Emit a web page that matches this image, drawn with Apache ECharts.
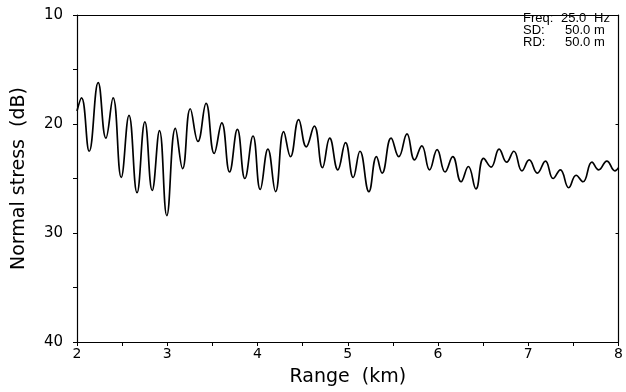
<!DOCTYPE html>
<html>
<head>
<meta charset="utf-8">
<script src="https://cdn.jsdelivr.net/npm/echarts@6/dist/echarts.min.js"></script>
<style>html,body{margin:0;padding:0;background:#fff}#c{width:626px;height:392px}</style>
</head>
<body>
<div id="c"></div>
<script>
// Range (km) of each read point (peaks / troughs of the curve)
var rangeKm = [2.00,2.05,2.135,2.235,2.32,2.40,2.49,2.576,2.665,2.752,2.833,2.914,2.995,3.09,3.17,3.255,3.34,3.43,3.52,3.604,3.69,3.777,3.86,3.95,4.03,4.115,4.20,4.29,4.365,4.456,4.54,4.629,4.72,4.80,4.89,4.975,5.06,5.135,5.234,5.318,5.38,5.48,5.565,5.656,5.74,5.82,5.906,5.99,6.078,6.163,6.255,6.336,6.42,6.505,6.588,6.677,6.76,6.84,6.93,7.01,7.10,7.19,7.275,7.355,7.448,7.53,7.606,7.705,7.78,7.87,7.96,8.00];
// Normal stress (dB)
var stressDb = [18.8,17.6,22.5,16.2,21.3,17.6,24.9,19.2,26.3,19.8,26.1,20.6,28.4,20.4,24.1,18.6,21.6,18.1,22.7,19.9,24.4,20.5,25.0,21.1,26.0,22.3,26.2,20.7,23.0,19.6,22.1,20.2,24.0,21.3,24.2,21.7,24.9,22.5,26.2,23.0,24.5,21.3,23.0,20.9,23.3,22.0,24.2,22.35,24.4,23.0,25.3,23.9,25.95,23.15,23.95,22.3,23.5,22.5,24.3,23.3,24.5,23.4,25.0,24.2,25.85,24.7,25.3,23.5,24.2,23.4,24.3,24.0];
var xTicks = [2,3,4,5,6,7,8];
var yTicks = [10,20,30,40];
var infoLabels = ['Freq:', 'SD:', 'RD:'];
var infoValues = ['25.0', '50.0', '50.0'];
var infoUnits = ['Hz', 'm', 'm'];

var pts = rangeKm.map(function(x, i){ return [x, stressDb[i]]; });
var FONT = 'DejaVu Sans';
var IFONT = 'Liberation Sans';
var chart = echarts.init(document.getElementById('c'), null, {renderer:'canvas'});

var graphics = [];
var valX = [561, 565, 565];
for (var i = 0; i < infoLabels.length; i++) {
  var y = 12 + i * 12;
  graphics.push({type:'text', left:523, top:y, style:{text:infoLabels[i], font:'13px "'+IFONT+'"', fill:'#000'}});
  graphics.push({type:'text', left:valX[i], top:y, style:{text:infoValues[i], font:'13px "'+IFONT+'"', fill:'#000'}});
  graphics.push({type:'text', left:594, top:y, style:{text:infoUnits[i], font:'13px "'+IFONT+'"', fill:'#000'}});
}

var axLine = {show:true, lineStyle:{color:'#000', width:1.2}};
chart.setOption({
  animation:false,
  backgroundColor:'#fff',
  grid:{left:77, right:3, top:15, bottom:49, containLabel:false},
  xAxis:[{
    type:'value', min:2, max:8, interval:1, position:'bottom',
    name:'Range  (km)', nameLocation:'middle', nameGap:26,
    nameTextStyle:{fontFamily:FONT, fontSize:19, color:'#000'},
    axisLine:axLine,
    axisTick:{show:true, inside:false, length:4, lineStyle:{color:'#000'}},
    minorTick:{show:true, splitNumber:2, length:4, lineStyle:{color:'#000'}},
    axisLabel:{fontFamily:FONT, fontSize:14, color:'#000', margin:5,
      formatter:function(v){ return xTicks.indexOf(v) >= 0 ? String(v) : ''; }},
    splitLine:{show:false}
  },{
    type:'value', min:2, max:8, interval:1, position:'top',
    axisLine:axLine, axisTick:{show:false}, axisLabel:{show:false}, splitLine:{show:false}
  }],
  yAxis:[{
    type:'value', min:10, max:40, interval:10, inverse:true, position:'left',
    name:'Normal stress  (dB)', nameLocation:'middle', nameGap:48, nameRotate:90,
    nameTextStyle:{fontFamily:FONT, fontSize:19, color:'#000'},
    axisLine:axLine,
    axisTick:{show:true, inside:false, length:4, lineStyle:{color:'#000'}},
    minorTick:{show:true, splitNumber:2, length:4, lineStyle:{color:'#000'}},
    axisLabel:{fontFamily:FONT, fontSize:15, color:'#000', margin:14,
      formatter:function(v){ return yTicks.indexOf(v) >= 0 ? String(v) : ''; }},
    splitLine:{show:false}
  },{
    type:'value', min:10, max:40, interval:10, inverse:true, position:'right',
    axisLine:axLine,
    axisTick:{show:true, inside:true, length:3, lineStyle:{color:'#000'}},
    axisLabel:{show:false}, splitLine:{show:false}
  }],
  series:[{
    type:'line', data:pts, smooth:0.45, showSymbol:false,
    lineStyle:{color:'#000', width:1.7}, xAxisIndex:0, yAxisIndex:0
  }],
  graphic:graphics
});
</script>
</body>
</html>
